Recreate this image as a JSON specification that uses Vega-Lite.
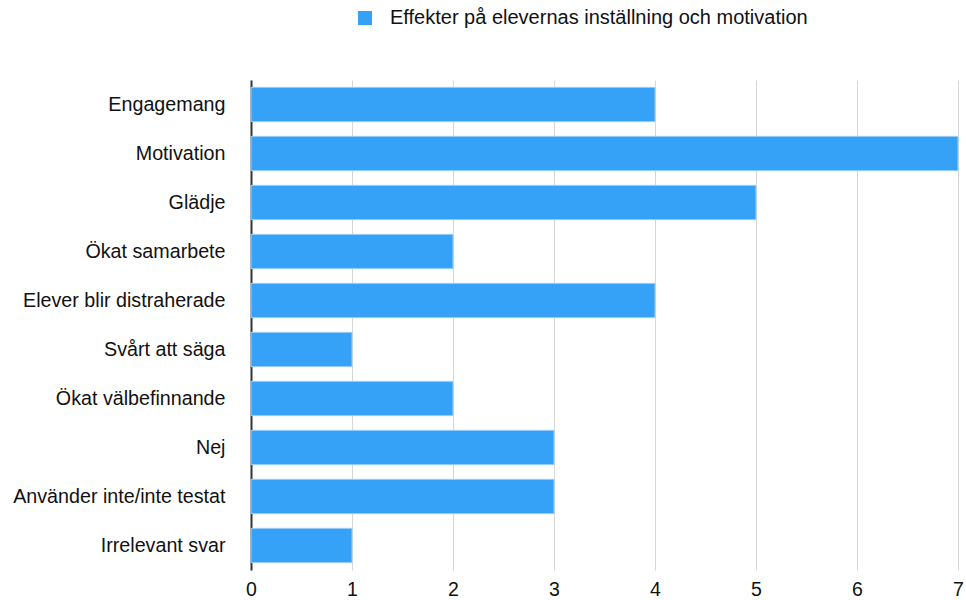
{
  "$schema": "https://vega.github.io/schema/vega-lite/v6.json",
  "autosize": {"type": "none"},
  "width": 707,
  "height": 490,
  "padding": {"left": 251, "top": 80, "right": 8, "bottom": 30},
  "background": "white",
  "config": {
    "view": {"stroke": null},
    "font": "Liberation Sans"
  },
  "data": {
    "values": [
      {"kategori": "Engagemang", "antal": 4, "serie": "Effekter på elevernas inställning och motivation"},
      {"kategori": "Motivation", "antal": 7, "serie": "Effekter på elevernas inställning och motivation"},
      {"kategori": "Glädje", "antal": 5, "serie": "Effekter på elevernas inställning och motivation"},
      {"kategori": "Ökat samarbete", "antal": 2, "serie": "Effekter på elevernas inställning och motivation"},
      {"kategori": "Elever blir distraherade", "antal": 4, "serie": "Effekter på elevernas inställning och motivation"},
      {"kategori": "Svårt att säga", "antal": 1, "serie": "Effekter på elevernas inställning och motivation"},
      {"kategori": "Ökat välbefinnande", "antal": 2, "serie": "Effekter på elevernas inställning och motivation"},
      {"kategori": "Nej", "antal": 3, "serie": "Effekter på elevernas inställning och motivation"},
      {"kategori": "Använder inte/inte testat", "antal": 3, "serie": "Effekter på elevernas inställning och motivation"},
      {"kategori": "Irrelevant svar", "antal": 1, "serie": "Effekter på elevernas inställning och motivation"}
    ]
  },
  "mark": {"type": "bar", "stroke": "#9ccff9", "strokeWidth": 1},
  "encoding": {
    "y": {
      "field": "kategori",
      "type": "nominal",
      "sort": null,
      "title": null,
      "scale": {"paddingInner": 0.3, "paddingOuter": 0.15},
      "axis": {
        "ticks": false,
        "domain": true,
        "domainColor": "#333333",
        "domainWidth": 2,
        "grid": false,
        "labelFontSize": 19.7,
        "labelColor": "#111111",
        "labelPadding": 26,
        "labelLimit": 260
      }
    },
    "x": {
      "field": "antal",
      "type": "quantitative",
      "title": null,
      "scale": {"domain": [0, 7], "nice": false},
      "axis": {
        "values": [0, 1, 2, 3, 4, 5, 6, 7],
        "ticks": false,
        "domain": false,
        "grid": true,
        "gridColor": "#d6d6d6",
        "gridWidth": 1,
        "labelFontSize": 19.5,
        "labelColor": "#111111",
        "labelPadding": 10,
        "labelFlush": false
      }
    },
    "color": {
      "field": "serie",
      "type": "nominal",
      "title": null,
      "scale": {"range": ["#36a2f7"]},
      "legend": {
        "orient": "none",
        "legendX": 104,
        "legendY": -72,
        "symbolType": "square",
        "symbolSize": 196,
        "symbolStrokeWidth": 0,
        "labelFontSize": 20,
        "labelColor": "#111111",
        "labelOffset": 15,
        "labelLimit": 600
      }
    }
  }
}
